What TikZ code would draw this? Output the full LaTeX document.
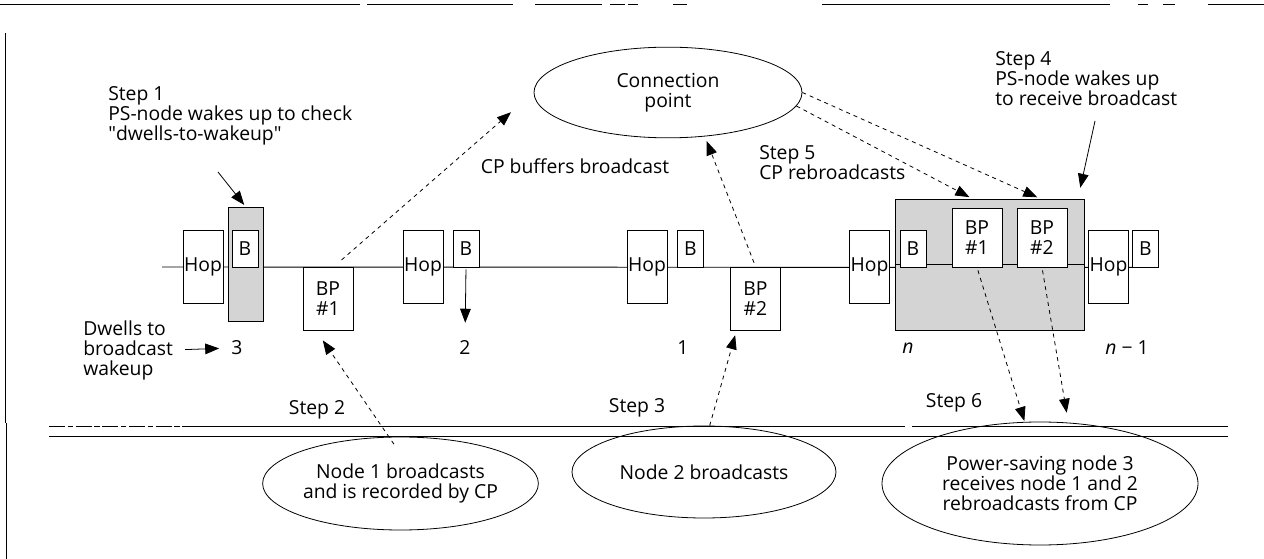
\documentclass[tikz,border=0pt]{standalone}
\usepackage{fontspec}
\setmainfont{Open Sans}
\usetikzlibrary{arrows.meta,shapes.geometric}
\begin{document}
\begin{tikzpicture}[x=0.75pt,y=-0.75pt,
  every node/.style={inner sep=0pt, font=\fontsize{14.5}{15}\selectfont},
  box/.style={draw, line width=0.7pt, fill=white},
  hopbox/.style={box, minimum width=30pt, minimum height=54.75pt},
  bbox/.style={box, minimum width=19.5pt, minimum height=27.75pt},
  bplow/.style={box, minimum width=37.5pt, minimum height=47.25pt, align=center},
  bphigh/.style={box, minimum width=37.5pt, minimum height=44.25pt, align=center},
  shade/.style={draw, line width=0.7pt, fill=black!17},
  oval/.style={ellipse, draw, line width=0.6pt, align=center},
  lbl/.style={align=left},
  arr/.style={line width=0.6pt, -{Triangle[length=10.5pt,width=8pt]}},
  darr/.style={arr, dash pattern=on 3pt off 3pt},
  rule/.style={line width=0.6pt}
]
\useasboundingbox (0,0) rectangle (1264,559);

% frame pieces
\draw[rule] (0,4.5) -- (360,4.5) (367,4.5) -- (513,4.5) (535,4.5) -- (602,4.5)
  (610,4.5) -- (625,4.5) (628,4.5) -- (638,4.5) (673,4.5) -- (687,4.5)
  (822,4.5) -- (1110,4.5) (1138,4.5) -- (1148,4.5) (1163,4.5) -- (1175,4.5)
  (1208,4.5) -- (1264,4.5);
\draw[rule] (5.5,33) -- (5.5,423) (6.5,423) -- (6.5,559);

% double line
\draw[rule, dash pattern=on 12pt off 2pt on 4pt off 2pt] (49,426) -- (195,426);
\draw[rule] (195,426) -- (905,426) (912,426) -- (1228,426);
\draw[rule] (49,436.5) -- (1228,436.5);

% timeline
\coordinate (tl0) at (162,267);
\node[bbox] (b5) at (1145.5,248.5) {B};
\draw[line width=0.7pt] (tl0) -- (b5.south west);

% shaded areas
\node[shade, minimum width=26.25pt, minimum height=85.5pt] (col) at (245.5,264) {};
\node[shade, minimum width=141.75pt, minimum height=98.25pt] (big) at (989.5,264.5) {};
\draw[line width=0.7pt] (big.west) -- (big.east);

% boxes
\node[hopbox] (hop1) at (203,266.5) {Hop};
\node[hopbox] (hop2) at (423,266.5) {Hop};
\node[hopbox] (hop3) at (647,266.5) {Hop};
\node[hopbox] (hop4) at (869.5,266.5) {Hop};
\node[hopbox] (hop5) at (1108.5,266.5) {Hop};
\node[bbox] (b1) at (245,248.5) {B};
\node[bbox] (b2) at (466,248.5) {B};
\node[bbox] (b3) at (690.5,248.5) {B};
\node[bbox] (b4) at (913,248.5) {B};
\node[bplow] (bp1) at (328,298.5) {BP\\\#1};
\node[bplow] (bp2) at (755.5,298.5) {BP\\\#2};
\node[bphigh] (bpr1) at (977,237.5) {BP\\\#1};
\node[bphigh] (bpr2) at (1042,237.5) {BP\\\#2};

% ellipses
\node[oval, minimum width=201pt, minimum height=68pt] (cp) at (668,92.5) {Connection\\point};
\node[oval, minimum width=198.75pt, minimum height=69.75pt] (n1) at (400.5,483.5) {Node 1 broadcasts\\and is recorded by CP};
\node[oval, minimum width=198pt, minimum height=69pt] (n2) at (704,472) {Node 2 broadcasts};
\node[oval, minimum width=237pt, minimum height=92.25pt] (ps) at (1040,483.5) {Power-saving node 3\\receives node 1 and 2\\rebroadcasts from CP};

% labels
\node[lbl, anchor=north west] (step1) at (108,86) {Step 1\\PS-node wakes up to check\\\textquotedbl dwells-to-wakeup\textquotedbl};
\node[lbl, anchor=north west] (step4) at (995,51) {Step 4\\PS-node wakes up\\to receive broadcast};
\node[lbl, anchor=north west] (step5) at (759,145) {Step 5\\CP rebroadcasts};
\node (cpbuf) at (575,166) {CP buffers broadcast};
\node[lbl, anchor=west] (dwells) at (83,350) {Dwells to\\broadcast\\wakeup};
\node (three) at (237,348) {3};
\node (two) at (465,348) {2};
\node (one) at (683,348) {1};
\node (nn) at (908,348) {\itshape n};
\node (nm1) at (1127,348) {\textit{n} − 1};
\node (step2) at (317,410) {Step 2};
\node (step3) at (637,408) {Step 3};
\node (step6) at (954,403) {Step 6};

% solid arrows
\coordinate (s1a) at (218,172);
\draw[arr, shorten >=1.5pt] (s1a) -- (col.north);
\coordinate (s4a) at (1095,121);
\draw[arr, shorten >=8.25pt] (s4a) -- ([xshift=-4.9pt]big.north east);
\draw[arr, shorten <=1.5pt, shorten >=13.5pt] (b2.south) -- (two.north);
\draw[arr, shorten <=9pt, shorten >=9pt] (dwells.east) -- (three.west);

% dashed arrows
\draw[darr, shorten <=7.5pt, shorten >=22.5pt] ([xshift=4.5pt]bp1.north) -- (cp.west);
\draw[darr, shorten <=3pt, shorten >=3.75pt] (bp2.north) -- (cp.-50);
\draw[darr, shorten >=2.25pt] (cp.east) -- ([xshift=37.9pt]big.north);
\draw[darr, shorten >=2.25pt] (cp.-6) -- ([xshift=-13.1pt]big.north);
\draw[darr, shorten <=2.25pt, shorten >=0.75pt] (bpr1.south) -- (ps.104);
\draw[darr, shorten <=2.25pt, shorten >=7.5pt] (bpr2.south) -- (ps.65);
\draw[darr, shorten <=-6.75pt, shorten >=9pt] (n1.104) -- ([xshift=-9pt]bp1.south);
\draw[darr, shorten >=3.75pt] (n2.83) -- ([xshift=-14.25pt]bp2.south);
\end{tikzpicture}
\end{document}
